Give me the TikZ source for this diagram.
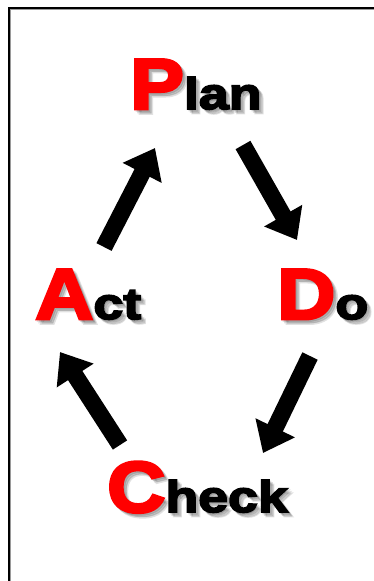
\documentclass[tikz,border=0pt]{standalone}
\usepackage{fontspec}
\setmainfont{Liberation Sans}
\newfontfamily\pdinit{Liberation Sans}[BoldFeatures={FakeBold=4, FakeStretch=1.12}]
\newfontfamily\pdrest{Liberation Sans}[BoldFeatures={FakeBold=4, FakeStretch=1.22}]
\usetikzlibrary{arrows.meta,calc}
\definecolor{pdred}{HTML}{FF0000}
\definecolor{shade}{HTML}{4A4A4A}
\definecolor{rim}{HTML}{9A9A9A}
\tikzset{
  word/.style={inner sep=0pt, anchor=base west},
  wshadow/.style={word, text=shade, opacity=0.16},
  cyc/.style={-{Triangle[length=28pt,width=42pt]}, line width=17pt, draw=black},
  frm/.style={line width=2pt, draw=black},
}
\newcommand{\pdcaword}[4]{%
  \foreach \d in {1.5,3,4.5}{\node[wshadow] at ($(#2)+(\d,\d)$)
     {{\pdinit\bfseries\fontsize{72}{72}\selectfont #3}{\pdrest\bfseries\fontsize{44}{44}\selectfont #4}};}
  \node[word] (#1) at (#2)
     {{\color{pdred}\pdinit\bfseries\fontsize{72}{72}\selectfont #3}{\pdrest\bfseries\fontsize{44}{44}\selectfont #4}};
}

\begin{document}
\begin{tikzpicture}[x=1pt, y=-1pt]
\useasboundingbox[fill=white] (0,0) rectangle (374,581);
% frame
\draw[frm] (8.5,581) |- (374,7.5);
\draw[rim, line width=0.8pt] (10.2,581) |- (374,9.2);
% words
\pdcaword{plan}{130,109}{P}{lan}
\pdcaword{act}{35,319}{A}{ct}
\pdcaword{do}{277,319}{D}{o}
\pdcaword{check}{107,512}{C}{heck}
% cycle arrows
\coordinate (ap0) at (104,247); \coordinate (ap1) at (155,148);
\coordinate (pd0) at (243,145); \coordinate (pd1) at (297,240);
\coordinate (dc0) at (310,356); \coordinate (dc1) at (263,453);
\coordinate (ca0) at (120,445); \coordinate (ca1) at (60,352);
\draw[cyc] (ap0) -- (ap1);
\draw[cyc] (pd0) -- (pd1);
\draw[cyc] (dc0) -- (dc1);
\draw[cyc] (ca0) -- (ca1);
\end{tikzpicture}
\end{document}
